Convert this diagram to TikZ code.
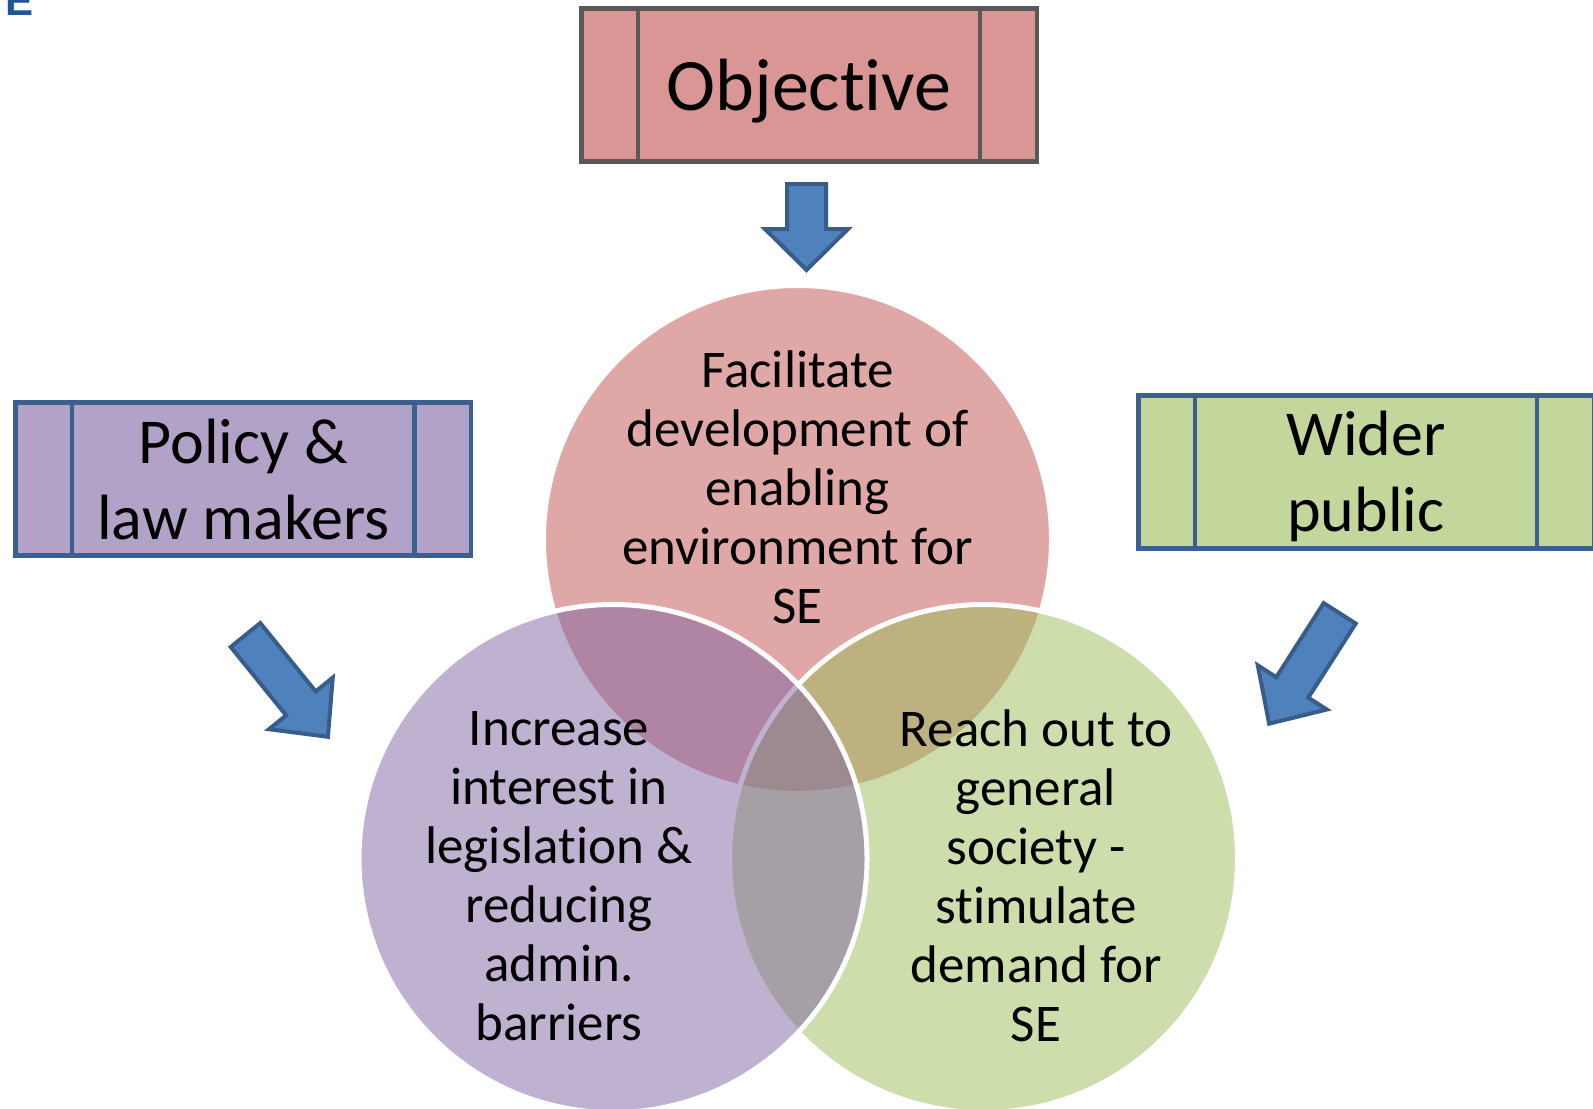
\documentclass[tikz,border=0pt]{standalone}
\usepackage{fontspec}
\setmainfont{Carlito}[Ligatures=CommonOff]
\newfontfamily\logofont{Liberation Sans}
\usepackage{xcolor}
\usetikzlibrary{positioning}

\definecolor{topred}{HTML}{C0504D}
\definecolor{leftpurple}{HTML}{8064A2}
\definecolor{rightgreen}{HTML}{9BBB59}
\definecolor{objfill}{HTML}{D99694}
\definecolor{polfill}{HTML}{B3A2C7}
\definecolor{pubfill}{HTML}{C3D69B}
\definecolor{objgray}{HTML}{595959}
\definecolor{boxblue}{HTML}{3B5F8E}
\definecolor{arrowfill}{HTML}{4F81BD}
\definecolor{arrowline}{HTML}{385D8A}
\definecolor{logoblue}{HTML}{1F5497}

\begin{document}
\begin{tikzpicture}[x=0.5pt, y=-0.5pt,
  vennnode/.style={circle, draw=white, line width=2.5pt, fill opacity=0.5, minimum size=254pt, inner sep=0pt},
  venntext/.style={align=center, inner sep=0pt, font=\fontsize{26.5}{29.5}\selectfont},
  procbox/.style={rectangle, line width=2.3pt, minimum width=227.8pt, minimum height=76.5pt, align=center, inner sep=0pt, text depth=0pt, font=\fontsize{32}{38}\selectfont},
  bluearrow/.style={draw=arrowline, fill=arrowfill, line width=2pt}]
\useasboundingbox (0,0) rectangle (1593,1108);

% cut off logo letter
\node[anchor=base west, inner sep=0pt, text=logoblue, font=\logofont\bfseries\fontsize{21}{21}\selectfont] (logo) at (5,16) {E};

% venn circles (left one lies on top)
\node[vennnode, fill=topred] (facil) at (797.5,539.5) {};
\node[vennnode, fill=rightgreen] (reach) at (983.5,858.5) {};
\node[vennnode, fill=leftpurple] (incr) at (613,858.5) {};

\node[venntext] (faciltext) at (797.5,487) {Facilitate\\development of\\enabling\\environment for\\SE};
\node[venntext] (incrtext) at (559,876) {Increase\\interest in\\legislation \&\\reducing\\admin.\\barriers};
\node[venntext] (reachtext) at (1036,876) {Reach out to\\general\\society -\\stimulate\\demand for\\SE};

% process boxes
\node[procbox, draw=objgray, fill=objfill, font=\fontsize{37}{37}\selectfont] (obj) at (809,85) {Objective};
\node[procbox, draw=boxblue, fill=polfill] (policy) at (243.3,479) {Policy \&\\law makers};
\node[procbox, draw=boxblue, fill=pubfill] (public) at (1366,471.7) {Wider\\public};

\foreach \b/\c in {obj/objgray, policy/boxblue, public/boxblue} {
  \draw[line width=2.2pt, \c] ([xshift=29.5pt]\b.north west) -- ([xshift=29.5pt]\b.south west);
  \draw[line width=2.2pt, \c] ([xshift=-29.5pt]\b.north east) -- ([xshift=-29.5pt]\b.south east);
}

% block arrows
\draw[bluearrow, shift={(806.5,184)}, rotate=-90] (0,-19.5) -- (45,-19.5) -- (45,-41.5) -- (86,0) -- (45,41.5) -- (45,19.5) -- (0,19.5) -- cycle;
\draw[bluearrow, shift={(245.5,635)}, rotate=-51] (0,-19) -- (88,-19) -- (88,-41) -- (131,0) -- (88,41) -- (88,19) -- (0,19) -- cycle;
\draw[bluearrow, shift={(1339.7,613.3)}, rotate=-122.6] (0,-19) -- (88,-19) -- (88,-41) -- (131,0) -- (88,41) -- (88,19) -- (0,19) -- cycle;

\end{tikzpicture}
\end{document}
